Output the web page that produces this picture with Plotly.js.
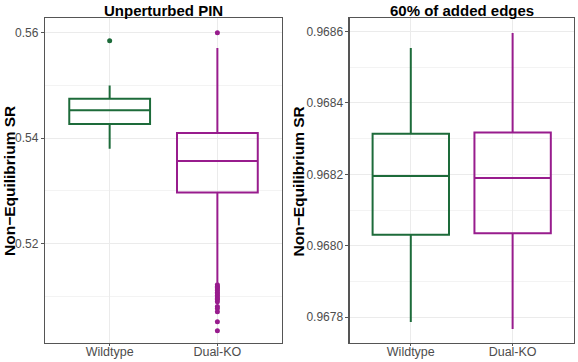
<!DOCTYPE html>
<html>
<head>
<meta charset="utf-8">
<script src="https://cdn.plot.ly/plotly-3.0.1.min.js"></script>
<style>html,body{margin:0;padding:0;background:#fff;}#chart{width:578px;height:362px;}</style>
</head>
<body>
<div id="chart"></div>
<script>
// ---- data ----
const categories = ["Wildtype", "Dual-KO"];
const colors = ["#1d6b3a", "#981c8d"];

// Panel 1: Unperturbed PIN
const p1_lower  = [0.5380, 0.5126];
const p1_q1     = [0.5427, 0.5297];
const p1_median = [0.5453, 0.5357];
const p1_q3     = [0.5475, 0.5410];
const p1_upper  = [0.5500, 0.5571];
const p1_outWild = [0.5585];
const p1_outDual = [0.5600, 0.5122, 0.5119, 0.5117, 0.5114, 0.5111, 0.5108, 0.5105, 0.5102, 0.5099, 0.5096, 0.5094, 0.5090, 0.5081, 0.5077, 0.5071, 0.5052, 0.5035];

// Panel 2: 60% of added edges
const p2_lower  = [0.967786, 0.967767];
const p2_q1     = [0.968031, 0.968035];
const p2_median = [0.968195, 0.968190];
const p2_q3     = [0.968314, 0.968317];
const p2_upper  = [0.968554, 0.968596];

const titles = ["Unperturbed PIN", "60% of added edges"];
const yTitle = "Non\u2212Equilibrium SR";
const p1_ticks = [0.52, 0.54, 0.56];
const p1_tickText = ["0.52", "0.54", "0.56"];
const p2_ticks = [0.9678, 0.9680, 0.9682, 0.9684, 0.9686];
const p2_tickText = ["0.9678", "0.9680", "0.9682", "0.9684", "0.9686"];

// ---- traces ----
const traces = [];
function addBoxes(xa, ya, lo, q1, med, q3, up) {
  categories.forEach((c, i) => {
    traces.push({
      type: "box", xaxis: xa, yaxis: ya,
      x: [c], q1: [q1[i]], median: [med[i]], q3: [q3[i]],
      lowerfence: [lo[i]], upperfence: [up[i]],
      width: 0.75, whiskerwidth: 0,
      fillcolor: "rgba(255,255,255,0)",
      line: {color: colors[i], width: 2},
      boxpoints: false, showlegend: false, hoverinfo: "skip"
    });
  });
}
addBoxes("x", "y", p1_lower, p1_q1, p1_median, p1_q3, p1_upper);
addBoxes("x2", "y2", p2_lower, p2_q1, p2_median, p2_q3, p2_upper);

traces.push({type: "scatter", mode: "markers", xaxis: "x", yaxis: "y",
  x: p1_outWild.map(() => categories[0]), y: p1_outWild,
  marker: {color: colors[0], size: 5}, showlegend: false, hoverinfo: "skip"});
traces.push({type: "scatter", mode: "markers", xaxis: "x", yaxis: "y",
  x: p1_outDual.map(() => categories[1]), y: p1_outDual,
  marker: {color: colors[1], size: 5}, showlegend: false, hoverinfo: "skip"});

// ---- layout ----
const font = "Liberation Sans, Arial, sans-serif";
const xBase = {
  type: "category", categoryarray: categories, categoryorder: "array",
  range: [-0.6, 1.6], showgrid: true, gridcolor: "#ebebeb", gridwidth: 1,
  zeroline: false, showline: true, mirror: true, linecolor: "#555", linewidth: 1.2,
  ticks: "outside", ticklen: 2, tickcolor: "#555", ticklabelstandoff: -5,
  tickfont: {family: font, size: 12.5, color: "#4d4d4d"}
};
const yBase = {
  showgrid: true, gridcolor: "#ebebeb", gridwidth: 1,
  zeroline: false, showline: true, mirror: true, linecolor: "#555", linewidth: 1.2,
  ticks: "outside", ticklen: 3, tickcolor: "#555",
  tickfont: {family: font, size: 12, color: "#4d4d4d"},
  domain: [0.053, 0.9503]
};

const layout = {
  width: 578, height: 362,
  margin: {l: 0, r: 0, t: 0, b: 0},
  paper_bgcolor: "#fff", plot_bgcolor: "#fff",
  showlegend: false,
  xaxis: Object.assign({}, xBase, {domain: [0.0779, 0.4879], anchor: "y"}),
  xaxis2: Object.assign({}, xBase, {domain: [0.605, 0.9926], anchor: "y2"}),
  yaxis: Object.assign({}, yBase, {anchor: "x", range: [0.5012, 0.5628],
    tickvals: p1_ticks, ticktext: p1_tickText,
    minor: {tickvals: [0.51, 0.53, 0.55], showgrid: true, gridcolor: "#f3f3f3", gridwidth: 1, ticks: ""}}),
  yaxis2: Object.assign({}, yBase, {anchor: "x2", range: [0.967728, 0.968638],
    tickvals: p2_ticks, ticktext: p2_tickText,
    minor: {tickvals: [0.9679, 0.9681, 0.9683, 0.9685], showgrid: true, gridcolor: "#f3f3f3", gridwidth: 1, ticks: ""}}),
  annotations: [
    {text: "<b>" + titles[0] + "</b>", xref: "paper", yref: "paper", x: 163.5/578, y: 1,
     xanchor: "center", yanchor: "top", showarrow: false, font: {family: font, size: 15, color: "#000"}},
    {text: "<b>" + titles[1] + "</b>", xref: "paper", yref: "paper", x: 462/578, y: 1,
     xanchor: "center", yanchor: "top", showarrow: false, font: {family: font, size: 15, color: "#000"}},
    {text: "<b>" + yTitle + "</b>", xref: "paper", yref: "paper", x: 9/578, y: 1 - 181/362, textangle: -90,
     xanchor: "center", yanchor: "middle", showarrow: false, font: {family: font, size: 15.5, color: "#000"}},
    {text: "<b>" + yTitle + "</b>", xref: "paper", yref: "paper", x: 297.5/578, y: 1 - 181/362, textangle: -90,
     xanchor: "center", yanchor: "middle", showarrow: false, font: {family: font, size: 15.5, color: "#000"}}
  ]
};

Plotly.newPlot("chart", traces, layout, {staticPlot: true, displayModeBar: false});
</script>
</body>
</html>
